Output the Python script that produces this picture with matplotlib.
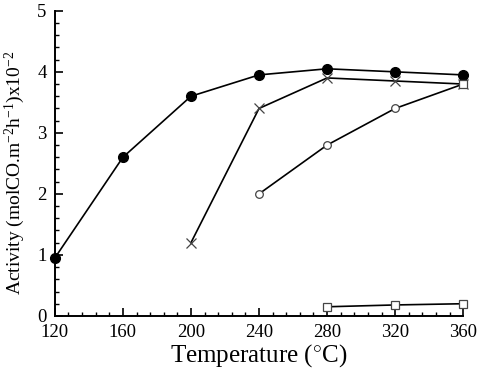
import numpy as np
import matplotlib.pyplot as plt
from matplotlib.ticker import MultipleLocator

# ---- data ----
temp_a = [120, 160, 200, 240, 280, 320, 360]
act_a = [0.95, 2.6, 3.6, 3.95, 4.05, 4.0, 3.95]      # filled circles

temp_b = [200, 240, 280, 320, 360]
act_b = [1.2, 3.4, 3.9, 3.85, 3.8]                   # crosses

temp_c = [240, 280, 320, 360]
act_c = [2.0, 2.8, 3.4, 3.8]                         # open circles

temp_d = [280, 320, 360]
act_d = [0.15, 0.18, 0.2]                            # open squares

plt.rcParams['font.family'] = ['Liberation Serif', 'DejaVu Serif']
plt.rcParams['mathtext.fontset'] = 'custom'
plt.rcParams['mathtext.rm'] = 'Liberation Serif'
plt.rcParams['mathtext.it'] = 'Liberation Serif:italic'

fig = plt.figure(figsize=(4.81, 3.73), dpi=100)
ax = fig.add_axes([0.114, 0.153, 0.849, 0.818])

edge = '#444444'
ax.plot(temp_a, act_a, '-o', color='black', lw=1.2, ms=7, clip_on=False, zorder=4)
ax.plot(temp_b, act_b, '-x', color='black', lw=1.2, ms=6.5, mew=0.9,
        mec=edge, clip_on=False, zorder=3)
ax.plot(temp_c, act_c, '-', color='black', lw=1.2, clip_on=False, zorder=3)
ax.plot(temp_c[:-1], act_c[:-1], 'o', mfc='white', mec=edge, ms=5.5, mew=0.9,
        clip_on=False, zorder=5)
ax.plot(temp_c[-1:], act_c[-1:], 's', mfc='white', mec=edge, ms=5.5, mew=0.9,
        clip_on=False, zorder=5)
ax.plot(temp_d, act_d, '-s', color='black', mfc='white', mec=edge, ms=6, mew=0.9,
        lw=1.2, clip_on=False, zorder=5)

ax.set_xlim(120, 360)
ax.set_ylim(0, 5)
ax.xaxis.set_major_locator(MultipleLocator(40))
ax.xaxis.set_minor_locator(MultipleLocator(8))
ax.yaxis.set_major_locator(MultipleLocator(1))
ax.yaxis.set_minor_locator(MultipleLocator(0.2))

for s in ['top', 'right']:
    ax.spines[s].set_visible(False)
for s in ['left', 'bottom']:
    ax.spines[s].set_linewidth(1.4)

ax.tick_params(which='major', direction='in', length=6, width=1.2,
               labelsize=13.5, pad=6)
ax.tick_params(which='minor', direction='in', length=3, width=1.0)

ax.set_xlabel(r'Temperature ($^{\circ}$C)', fontsize=18, labelpad=1)
ax.set_ylabel(r'Activity (molCO.m$^{-2}$h$^{-1}$)x10$^{-2}$', fontsize=14)
ax.yaxis.set_label_coords(-0.068, 0.47)

plt.savefig('out.png', dpi=100)
